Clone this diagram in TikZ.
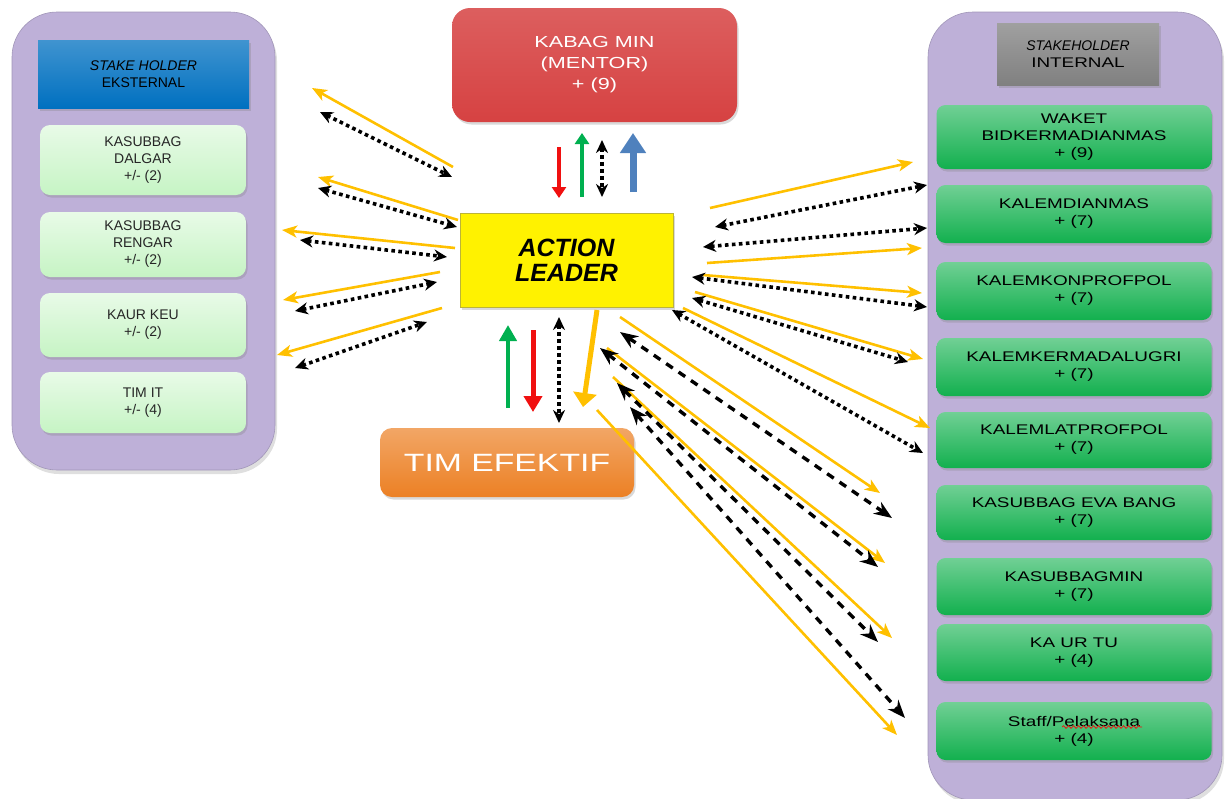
\documentclass[tikz,border=0pt]{standalone}
\usepackage{fontspec}
\setmainfont{Liberation Sans}
\newfontfamily\widefont[FakeStretch=1.35]{Liberation Sans}
\usetikzlibrary{arrows.meta,shadows,decorations.pathmorphing}
\definecolor{panel}{RGB}{190,176,216}
\definecolor{lgreen}{RGB}{198,244,196}
\definecolor{dgreen}{RGB}{18,176,78}
\definecolor{hblue}{RGB}{0,112,192}
\definecolor{hgrey}{RGB}{128,128,128}
\definecolor{kred}{RGB}{214,66,66}
\definecolor{gold}{RGB}{255,192,0}
\definecolor{teorange}{RGB}{236,128,36}
\definecolor{arrred}{RGB}{240,16,16}
\definecolor{arrgreen}{RGB}{0,176,80}
\definecolor{arrblue}{RGB}{79,129,189}
\tikzset{
 panelbox/.style={rounded corners=45pt,fill=panel,draw=panel!85!black,line width=0.6pt,
  drop shadow={shadow xshift=2pt,shadow yshift=-4pt,opacity=0.25}},
 shadebox/.style={align=center,inner sep=2pt,
  drop shadow={shadow xshift=1.5pt,shadow yshift=-2.5pt,opacity=0.3}},
 exthead/.style={shadebox,top color=hblue!75!white,bottom color=hblue,minimum width=211pt,minimum height=68pt,
  font=\fontsize{14}{17}\selectfont},
 inthead/.style={shadebox,top color=hgrey!75!white,bottom color=hgrey,minimum width=162pt,minimum height=62pt,
  font=\fontsize{14}{17}\selectfont},
 extbox/.style={shadebox,rounded corners=10pt,top color=lgreen!40!white,bottom color=lgreen,minimum width=206pt,
  font=\fontsize{14}{17}\selectfont,text=black!85},
 intbox/.style={shadebox,rounded corners=9pt,top color=dgreen!60!white,bottom color=dgreen,minimum width=275pt,
  font=\widefont\fontsize{14}{17}\selectfont},
 mentorbox/.style={shadebox,rounded corners=18pt,top color=kred!85!white,bottom color=kred,minimum width=285pt,
  minimum height=114pt,text=white,font=\widefont\fontsize{16}{21}\selectfont},
 leaderbox/.style={shadebox,fill=yellow,draw=yellow!70!black,line width=0.6pt,minimum width=213pt,minimum height=94pt,
  font=\bfseries\itshape\fontsize{25}{25}\selectfont},
 teambox/.style={shadebox,rounded corners=12pt,top color=teorange!70!white,bottom color=teorange,minimum width=254pt,
  minimum height=69pt,text=white,font=\widefont\fontsize{25}{25}\selectfont},
 goldarr/.style={draw=gold,line width=2.6pt,-{Stealth[length=15pt,width=12pt,inset=4pt]}},
 dotarr/.style={draw=black,line width=3.6pt,dash pattern=on 3.6pt off 3.4pt,
  {Stealth[length=13pt,width=12pt]}-{Stealth[length=13pt,width=12pt]}},
 dasharr/.style={draw=black,line width=3.4pt,dash pattern=on 8pt off 7pt,
  {Stealth[length=18pt,width=14pt]}-{Stealth[length=18pt,width=14pt]}},
 redarr/.style={draw=arrred,line width=3.5pt,-{Triangle[length=11pt,width=14pt]}},
 greenarr/.style={draw=arrgreen,line width=3.5pt,-{Triangle[length=11pt,width=14pt]}},
 bluearr/.style={draw=arrblue,line width=7pt,-{Triangle[length=20pt,width=25pt]}}
}
\begin{document}
\begin{tikzpicture}[x=1pt,y=-1pt]
\path[use as bounding box] (0,0) rectangle (1231,798);
\clip (0,0) rectangle (1231,798);
% panels
\node[panelbox,minimum width=263pt,minimum height=458pt] (ext) at (143.5,241) {};
\node[panelbox,minimum width=294pt,minimum height=788pt] (int) at (1075,406) {};
\node[exthead] (exth) at (143.5,74) {\textit{STAKE HOLDER}\\EKSTERNAL};
\node[inthead] (inth) at (1078,54) {\textit{STAKEHOLDER}\\{\widefont INTERNAL}};
% eksternal
\node[extbox,minimum height=70pt] (e1) at (143,160) {KASUBBAG\\DALGAR\\+/- (2)};
\node[extbox,minimum height=65pt] (e2) at (143,244.5) {KASUBBAG\\RENGAR\\+/- (2)};
\node[extbox,minimum height=64pt] (e3) at (143,325) {KAUR KEU\\+/- (2)};
\node[extbox,minimum height=61pt] (e4) at (143,402.5) {TIM IT\\+/- (4)};
% internal
\foreach \n/\y/\h/\t in {
 i1/137/64/{WAKET\\BIDKERMADIANMAS\\+ (9)},
 i2/214/58/{KALEMDIANMAS\\+ (7)},
 i3/291/58/{KALEMKONPROFPOL\\+ (7)},
 i4/367/58/{KALEMKERMADALUGRI\\+ (7)},
 i5/440/56/{KALEMLATPROFPOL\\+ (7)},
 i6/512.5/55/{KASUBBAG EVA BANG\\+ (7)},
 i7/586.5/57/{KASUBBAGMIN\\+ (7)},
 i8/652.5/57/{KA UR TU\\+ (4)},
 i9/731/58/{Staff/Pelaksana\\+ (4)}}
 \node[intbox,minimum height=\h pt] (\n) at (1074,\y) {\t};
\draw[arrred,line width=0.8pt,decorate,decoration={snake,amplitude=1.3pt,segment length=5pt}]
 (1062,727)--(1142,727);
% center
\node[mentorbox] (km) at (594.5,65) {KABAG MIN\\(MENTOR)\\+ (9)};
\node[leaderbox] (al) at (566.5,260) {ACTION\\LEADER};
\node[teambox] (te) at (507,462.5) {TIM EFEKTIF};
% arrow ends
\foreach \n/\x/\y in {
 gs1/453/167, ge1/312/88, gs2/458/220, ge2/318/177, gs3/455/248, ge3/282/230,
 gs4/440/272, ge4/283/300, gs5/442/308, ge5/277/355,
 gs6/710/208, ge6/913/162, gs7/707/263, ge7/922/248, gs8/703/275, ge8/922/293,
 gs9/695/292, ge9/923/359, gs10/683/308, ge10/930/428,
 gs11/620/317, ge11/880/493, gs12/607/348, ge12/885/563, gs13/613/377, ge13/892/638,
 gs14/597/410, ge14/897/735,
 ds1/320/112, de1/452/177, ds2/318/188, de2/457/227, ds3/300/240, de3/447/257,
 ds4/295/311, de4/437/282, ds5/295/368, de5/427/322,
 ds6/715/227, de6/927/185, ds7/703/247, de7/927/228, ds8/692/277, de8/927/307,
 ds9/692/298, de9/908/362, ds10/672/310, de10/923/453,
 ds11/602/140, de11/602/197, ds12/559/317, de12/559/423,
 ks1/620/332, ke1/892/518, ks2/600/348, ke2/878/567, ks3/617/383, ke3/878/642,
 ks4/630/407, ke4/905/718,
 rs1/559/147, re1/559/198, rs2/533/330, re2/533/412,
 ns1/582/197, ne1/582/133, ns2/508/408, ne2/508/325,
 bs/633/192, be/633/133, ts/597/310, tend/583/407}
 \coordinate (\n) at (\x,\y);
\foreach \i in {1,...,14}
 \draw[goldarr] (gs\i)--(ge\i);
\foreach \i in {1,...,12}
 \draw[dotarr] (ds\i)--(de\i);
\foreach \i in {1,...,4}
 \draw[dasharr] (ks\i)--(ke\i);
\draw[redarr] (rs1)--(re1);
\draw[redarr,line width=5pt,-{Triangle[length=16pt,width=18pt]}] (rs2)--(re2);
\draw[greenarr] (ns1)--(ne1);
\draw[greenarr,line width=4.5pt,-{Triangle[length=16pt,width=17pt]}] (ns2)--(ne2);
\draw[bluearr] (bs)--(be);
\draw[goldarr,line width=5pt,-{Triangle[length=14pt,width=23pt]}] (ts)--(tend);
\end{tikzpicture}
\end{document}
